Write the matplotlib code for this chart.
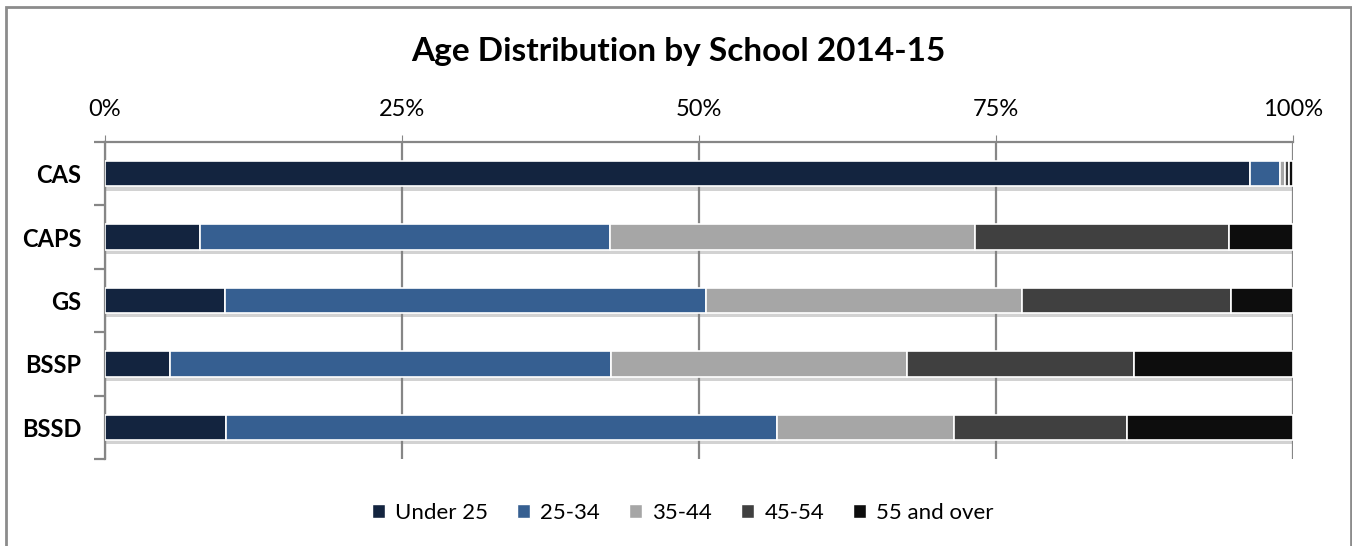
import matplotlib.pyplot as plt
import matplotlib.patheffects as pe
from matplotlib.patches import Patch
import numpy as np

plt.rcParams['font.family'] = ['Lato', 'DejaVu Sans']

# ===============================
# Data (percent of staff per age band)
# ===============================
schools = ["CAS", "CAPS", "GS", "BSSP", "BSSD"]
age_groups = ["Under 25", "25-34", "35-44", "45-54", "55 and over"]

under_25 = [96.4, 8.0, 10.1, 5.5, 10.2]
age_25_34 = [2.5, 34.5, 40.5, 37.1, 46.4]
age_35_44 = [0.4, 30.7, 26.6, 24.9, 14.9]
age_45_54 = [0.4, 21.4, 17.6, 19.1, 14.5]
age_55_over = [0.3, 5.4, 5.2, 13.4, 14.0]

colors = ["#13243f", "#365f91", "#a6a6a6", "#404040", "#0d0d0d"]

series = [under_25, age_25_34, age_35_44, age_45_54, age_55_over]

# ===============================
# Figure
# ===============================
fig = plt.figure(figsize=(13.52, 5.46), dpi=100)
ax = fig.add_axes([105 / 1352, 1 - 459 / 546, 1188 / 1352, 317 / 546])

# outer chart border
fig.patches.append(plt.Rectangle((6 / 1352, -0.05), 1345 / 1352, 1 - 7 / 546 + 0.05,
                                 transform=fig.transFigure, fill=False,
                                 edgecolor="#8c8c8c", linewidth=2))

y = np.arange(len(schools))
left = np.zeros(len(schools))
shadow = [pe.SimplePatchShadow(offset=(1, -3), shadow_rgbFace="#7f7f7f", alpha=0.35), pe.Normal()]

for vals, col in zip(series, colors):
    bars = ax.barh(y, vals, left=left, height=0.4, color=col,
                   edgecolor="white", linewidth=1.2, zorder=3)
    for b in bars:
        b.set_path_effects(shadow)
    left += np.array(vals)

ax.set_xlim(0, 100)
ax.set_ylim(len(schools) - 0.5, -0.5)

ax.xaxis.tick_top()
ax.set_xticks([0, 25, 50, 75, 100])
ax.set_xticklabels(["0%", "25%", "50%", "75%", "100%"], fontsize=17)
ax.tick_params(axis="x", length=5, color="#868686", pad=11)
ax.grid(axis="x", color="#868686", linewidth=1.6, zorder=0)

ax.set_yticks(y)
ax.set_yticklabels(schools, fontsize=17, fontweight="bold")
ax.set_yticks(np.arange(-0.5, len(schools)), minor=True)
ax.tick_params(axis="y", which="major", length=0, pad=17)
ax.tick_params(axis="y", which="minor", length=8, width=1.6, color="#868686")

for s in ["right", "bottom"]:
    ax.spines[s].set_visible(False)
for s in ["left", "top"]:
    ax.spines[s].set_color("#868686")
    ax.spines[s].set_linewidth(1.6)

fig.text(0.502, 1 - 52 / 546, "Age Distribution by School 2014-15",
         ha="center", va="center", fontsize=24, fontweight="bold")

handles = [Patch(facecolor=c, edgecolor="white", label=l) for c, l in zip(colors, age_groups)]
fig.legend(handles=handles, loc="center", bbox_to_anchor=(0.505, 1 - 513 / 546), ncol=5,
           frameon=False, fontsize=16, handlelength=0.6, handleheight=0.6,
           handletextpad=0.45, columnspacing=1.3)

plt.savefig("out.png", dpi=100)
